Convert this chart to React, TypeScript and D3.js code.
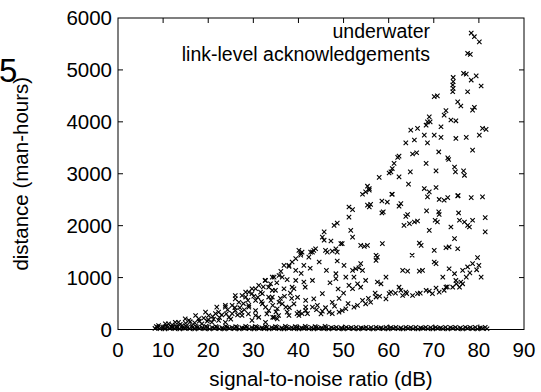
import React from 'react';
import * as d3 from 'd3';

// x ticks (dB) and y ticks (man-hours)
const xTicks = [0, 10, 20, 30, 40, 50, 60, 70, 80, 90];
const yTicks = [0, 1000, 2000, 3000, 4000, 5000, 6000];
const legendLines = ['underwater', 'link-level acknowledgements'];

// scattered points [snr, distance]
const linkPoints: [number, number][] = [
  [78.3, 5710], [79.0, 5640], [80.1, 5540], [77.5, 5320], [78.1, 5300], [76.6, 4935], [77.2, 4920], [78.3, 4805],
  [79.4, 4885], [80.5, 4690], [74.3, 4855], [74.3, 4775], [74.2, 4710], [74.3, 4645], [74.2, 4580], [77.5, 4580],
  [70.1, 4485], [70.8, 4500], [75.3, 4385], [76.0, 4305], [78.6, 4225], [79.0, 4280], [72.7, 4215], [72.3, 4130],
  [69.0, 4095], [68.6, 4000], [69.2, 4000], [73.8, 4035], [74.9, 4020], [71.6, 3905], [64.9, 3840], [66.4, 3875],
  [68.3, 3935], [80.8, 3875], [81.6, 3855], [80.1, 3745], [63.8, 3595], [65.7, 3650], [67.9, 3745], [68.6, 3595],
  [70.1, 3745], [71.6, 3700], [74.9, 3680], [77.2, 3700], [78.6, 3455], [65.3, 3380], [66.2, 3405], [62.0, 3315],
  [62.3, 3340], [71.1, 3420], [73.1, 3305], [73.3, 3275], [68.3, 3200], [61.2, 3200], [60.8, 3100], [57.9, 2930],
  [60.1, 3015], [60.5, 3035], [62.3, 2940], [64.8, 3035], [70.5, 3055], [74.6, 3130], [74.8, 3035], [76.6, 3055],
  [76.8, 2970], [55.3, 2760], [55.7, 2715], [54.2, 2605], [54.9, 2650], [64.4, 2800], [67.9, 2715], [69.0, 2650],
  [70.5, 2735], [60.8, 2605], [68.6, 2555], [73.1, 2540], [75.3, 2575], [78.3, 2540], [80.8, 2555],
  [55.7, 2685], [51.2, 2360], [52.0, 2310], [55.3, 2395], [56.0, 2410], [55.7, 2360], [58.5, 2475], [59.7, 2455],
  [58.5, 2245], [58.8, 2265], [60.7, 2605], [62.7, 2425], [62.3, 2375], [71.2, 2505], [72.3, 2490], [75.4, 2580],
  [64.2, 2215], [63.8, 2180], [63.4, 2005], [64.6, 2040], [65.7, 2070], [66.4, 2090], [68.4, 2285], [71.1, 2265],
  [71.2, 2215], [70.3, 2105], [70.8, 2070], [69.0, 1910], [73.8, 1975], [75.5, 2245], [75.7, 2105], [76.8, 2070],
  [77.5, 2005], [77.9, 1975], [78.6, 2105], [81.4, 2155], [81.4, 1880], [48.6, 2050], [47.9, 2005], [51.6, 1910],
  [52.0, 1780], [45.7, 1880], [45.3, 1780], [45.7, 1720], [47.2, 1705], [49.4, 1655], [46.0, 1525], [46.4, 1490],
  [47.5, 1510], [48.3, 1555], [48.6, 1490], [53.8, 1620], [54.6, 1600], [55.3, 1620], [58.6, 1655], [57.2, 1430],
  [57.5, 1395], [57.2, 1330], [66.8, 1665], [67.2, 1620], [70.1, 1525], [72.7, 1575], [73.4, 1590], [75.3, 1555],
  [74.6, 1750], [65.2, 1430], [40.1, 1525], [40.5, 1460], [41.2, 1235], [42.3, 1395], [43.1, 1490], [43.8, 1555],
  [41.2, 915], [43.1, 945], [48.3, 1075], [48.3, 980], [50.5, 1010], [52.0, 1140], [52.7, 1170], [53.4, 1190],
  [53.8, 1270], [54.2, 1140], [52.3, 1010], [50.1, 1235], [63.1, 1140], [64.2, 1125], [66.8, 1125], [67.5, 1140],
  [70.1, 1300], [70.5, 1270], [57.5, 915], [58.3, 880], [59.4, 1010], [54.9, 945], [53.1, 880], [53.8, 815],
  [51.2, 850], [52.0, 785], [73.4, 1170], [74.6, 1075], [76.4, 1140], [77.5, 1205], [78.6, 1270], [79.7, 1385],
  [80.0, 1235], [80.5, 1010], [72.0, 1010], [72.7, 815], [74.9, 945], [76.0, 915], [76.4, 880], [77.2, 1010],
  [75.7, 815], [74.2, 815],
  [62.3, 815], [62.7, 755], [63.8, 720], [65.3, 655], [66.4, 690], [68.3, 755], [69.7, 690], [71.2, 720],
  [72.3, 755], [60.1, 690], [59.4, 590], [57.2, 625], [56.0, 525], [54.9, 495], [54.2, 560], [50.5, 400],
  [49.7, 365], [49.0, 335], [47.5, 305], [46.8, 335], [45.3, 355], [44.2, 465], [43.1, 430], [41.6, 365],
  [40.8, 305], [40.1, 270], [52.3, 430], [53.1, 465], [63.1, 655], [47.5, 525], [45.3, 690], [41.6, 560], [43.4, 590],
  [51.2, 2165], [49.7, 1655], [43.4, 1525], [42.7, 1490], [40.8, 1490], [40.5, 1430], [39.4, 1365], [38.6, 1300],
  [36.8, 1235], [37.9, 1215], [39.4, 1140], [48.6, 1320], [34.6, 1010], [35.7, 1040], [36.4, 1010], [37.5, 960],
  [39.4, 945], [33.4, 815], [34.9, 755], [36.8, 785], [39.0, 785], [33.9, 560], [34.3, 465], [35.3, 400],
  [36.4, 495], [37.2, 430], [37.5, 335], [39.0, 495], [37.9, 270], [39.7, 305], [42.0, 305], [34.3, 235], [35.3, 205],
  [32.7, 945], [29.0, 720], [27.5, 655], [26.0, 590], [23.8, 430], [22.3, 335], [20.1, 270], [17.9, 205],
  [15.7, 175], [13.4, 140], [11.2, 110], [9.0, 75], [30.5, 785], [29.7, 690], [28.3, 625], [26.8, 525],
  [25.3, 465], [29.0, 465], [30.5, 365], [32.0, 495], [33.4, 625], [34.2, 755], [32.0, 690], [31.2, 235],
  [27.5, 270], [24.6, 235], [22.3, 175], [20.8, 140], [18.6, 110], [16.4, 75], [14.2, 75], [11.9, 45],
  [10.1, 45], [21.6, 305], [26.0, 365], [33.4, 365], [34.6, 235], [23.8, 140], [29.7, 175], [32.7, 140],
  [37.9, 1235], [34.2, 1010], [32.6, 945], [31.2, 850], [29.7, 785], [28.3, 720], [26.0, 655], [23.8, 465],
  [21.9, 430], [19.4, 335], [17.2, 270], [14.9, 205], [12.7, 140], [10.5, 110], [38.6, 815], [41.5, 815],
  [34.2, 625], [35.7, 525], [40.1, 335], [41.6, 430], [32.7, 430], [30.5, 560], [29.0, 430], [27.4, 335],
  [25.3, 305], [30.5, 270], [35.6, 270],
  [12.0, 90], [13.0, 60], [15.0, 120], [16.0, 150], [18.0, 160], [19.0, 220], [20.0, 190], [21.0, 250],
  [22.5, 230], [24.0, 300], [25.0, 200], [26.5, 280], [27.0, 420], [28.0, 380], [28.8, 560], [31.0, 620],
  [31.8, 540], [33.0, 300], [35.0, 340], [36.0, 600], [38.0, 420], [38.5, 600], [44.0, 380], [45.0, 300],
  [46.0, 420], [48.0, 450], [49.0, 600], [50.0, 700], [51.0, 500], [55.5, 600], [57.0, 700], [58.0, 640],
  [60.5, 720], [61.5, 700], [64.0, 690], [67.0, 700], [69.0, 740], [70.5, 800], [73.0, 820], [75.0, 880],
  [78.0, 1090], [79.5, 1150],
  [13.8, 100], [17.0, 130], [19.8, 160], [21.2, 200], [23.0, 280], [24.3, 380], [25.9, 420], [27.8, 500],
  [28.9, 300], [30.1, 640], [31.6, 720], [32.2, 820], [33.8, 880], [35.2, 900], [36.1, 1120], [36.9, 640],
  [38.2, 700], [39.8, 620], [40.6, 1080], [42.6, 1180], [44.6, 1300], [46.2, 1140], [47.0, 900], [48.8, 780],
];

// the dense band of points lying on the floor [snr, distance]
const floorPoints: [number, number][] = [
  [8.2, 20], [8.8, 40], [9.3, 15], [9.9, 35], [10.4, 10], [11.0, 40], [11.5, 20], [12.1, 35], [12.6, 15], [13.2, 40],
  [13.7, 10], [14.3, 30], [14.8, 20], [15.4, 40], [15.9, 15], [16.5, 35], [17.0, 10], [17.6, 40], [18.1, 20], [18.7, 30],
  [19.2, 15], [19.8, 40], [20.3, 10], [20.9, 35], [21.4, 20], [22.0, 40], [22.5, 15], [23.1, 30], [23.6, 10], [24.2, 40],
  [24.7, 20], [25.3, 35], [25.8, 15], [26.4, 40], [26.9, 10], [27.5, 30], [28.0, 20], [28.6, 40], [29.1, 15], [29.7, 35],
  [30.2, 10], [30.8, 40], [31.3, 20], [31.9, 30], [32.4, 15], [33.0, 40], [33.5, 10], [34.1, 35], [34.6, 20], [35.2, 40],
  [35.7, 15], [36.3, 30], [36.8, 10], [37.4, 40], [37.9, 20], [38.5, 35], [39.0, 15], [39.6, 40], [40.1, 10], [40.7, 30],
  [41.2, 20], [41.8, 40], [42.3, 15], [42.9, 35], [43.4, 10], [44.0, 40], [44.5, 20], [45.1, 30], [45.6, 15], [46.2, 40],
  [46.7, 10], [47.3, 35], [47.8, 20], [48.4, 40], [48.9, 15], [49.5, 30], [50.0, 10], [50.6, 40], [51.1, 20], [51.7, 35],
  [52.2, 15], [52.8, 40], [53.3, 10], [53.9, 30], [54.4, 20], [55.0, 40], [55.5, 15], [56.1, 35], [56.6, 10], [57.2, 40],
  [57.7, 20], [58.3, 30], [58.8, 15], [59.4, 40], [59.9, 10], [60.5, 35], [61.0, 20], [61.6, 40], [62.1, 15], [62.7, 30],
  [63.2, 10], [63.8, 40], [64.3, 20], [64.9, 35], [65.4, 15], [66.0, 40], [66.5, 10], [67.1, 30], [67.6, 20], [68.2, 40],
  [68.7, 15], [69.3, 35], [69.8, 10], [70.4, 40], [70.9, 20], [71.5, 30], [72.0, 15], [72.6, 40], [73.1, 10], [73.7, 35],
  [74.2, 20], [74.8, 40], [75.3, 15], [75.9, 30], [76.4, 10], [77.0, 40], [77.5, 20], [78.1, 35], [78.6, 15], [79.2, 40],
  [79.7, 10], [80.3, 30], [80.8, 20], [81.4, 40], [81.8, 15],
  [8.5, 55], [10.7, 60], [12.9, 50], [15.1, 60], [17.3, 55], [19.5, 60], [21.7, 55], [23.9, 60], [26.1, 55], [28.3, 60],
  [30.5, 55], [32.7, 60], [34.9, 55], [37.1, 60], [39.3, 55], [41.5, 60], [43.7, 55], [45.9, 60],
];

const W = 541;
const H = 392;
const left = 118;
const right = 524;
const top = 18;
const bottom = 329.5;
const font = '"Liberation Sans", Arial, Helvetica, sans-serif';
const fs = 20.5;

const x = d3.scaleLinear().domain([0, 90]).range([left, right]);
const y = d3.scaleLinear().domain([0, 6000]).range([bottom, top]);

const cross = 'M-2.2,-2.2L2.2,2.2M-2.2,2.2L2.2,-2.2';

export default function App() {
  const all = [...floorPoints, ...linkPoints];
  return (
    <svg
      width={W}
      height={H}
      style={{ position: 'absolute', left: 0, top: 0, background: '#fff' }}
      fontFamily={font}
    >
      {/* crosses */}
      <g stroke="#000" strokeWidth={1.1} fill="none">
        {all.map((d, i) => (
          <path key={i} d={cross} transform={`translate(${x(d[0])},${y(d[1])})`} />
        ))}
      </g>

      {/* frame and ticks */}
      <g stroke="#000" strokeWidth={1} fill="none">
        <rect x={left} y={top} width={right - left} height={bottom - top} />
        {xTicks.slice(1, -1).map((t) => (
          <g key={'x' + t}>
            <line x1={x(t)} x2={x(t)} y1={bottom} y2={bottom - 5} />
            <line x1={x(t)} x2={x(t)} y1={top} y2={top + 5} />
          </g>
        ))}
        {yTicks.slice(1, -1).map((t) => (
          <g key={'y' + t}>
            <line x1={left} x2={left + 5} y1={y(t)} y2={y(t)} />
            <line x1={right} x2={right - 5} y1={y(t)} y2={y(t)} />
          </g>
        ))}
      </g>

      {/* tick labels */}
      <g fontSize={fs} fill="#000">
        {xTicks.map((t) => (
          <text key={'xl' + t} x={x(t)} y={357} textAnchor="middle">{t}</text>
        ))}
        {yTicks.map((t) => (
          <text key={'yl' + t} x={112} y={y(t) + 7} textAnchor="end">{t}</text>
        ))}
      </g>

      {/* axis titles */}
      <text x={(left + right) / 2} y={386} textAnchor="middle" fontSize={fs}>
        signal-to-noise ratio (dB)
      </text>
      <text
        transform={`translate(28,${(top + bottom) / 2}) rotate(-90)`}
        textAnchor="middle"
        fontSize={fs}
      >
        distance (man-hours)
      </text>
      <text x={-1} y={82} fontSize={33}>5</text>

      {/* key */}
      {legendLines.map((s, i) => (
        <text key={s} x={430} y={38 + i * 23} textAnchor="end" fontSize={19.5}>{s}</text>
      ))}
    </svg>
  );
}
